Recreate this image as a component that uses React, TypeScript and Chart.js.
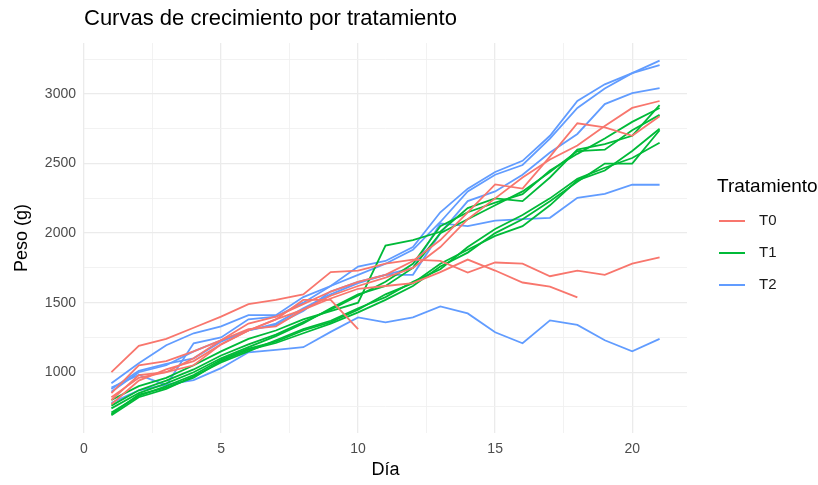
import React, { useEffect, useRef } from "react";
import { Chart, registerables } from "chart.js";

Chart.register(...registerables);

const FONT = "'Liberation Sans', Arial, sans-serif";

const days = [1, 2, 3, 4, 5, 6, 7, 8, 9, 10, 11, 12, 13, 14, 15, 16, 17, 18, 19, 20, 21];

// T0
const t0_s1 = [1000, 1190, 1240, 1320, 1400, 1490, 1520, 1560, 1720, 1730, 1780, 1810, 1800, 1717, 1789, 1781, 1690, 1730, 1700, 1780, 1825];
const t0_s2 = [850, 1050, 1080, 1150, 1230, 1310, 1330, 1450, 1530, 1600, 1620, 1640, 1720, 1810, 1731, 1645, 1616, 1538];
const t0_s3 = [800, 980, 1000, 1100, 1230, 1350, 1400, 1490, 1580, 1650, 1700, 1800, 1950, 2150, 2350, 2320, 2550, 2790, 2760, 2700, 2840];
const t0_s4 = [770, 940, 1020, 1080, 1200, 1300, 1380, 1450, 1550, 1620, 1680, 1750, 1900, 2100, 2250, 2400, 2530, 2630, 2770, 2900, 2950];
const t0_s5 = [820, 960, 1000, 1050, 1200, 1300, 1380, 1520, 1520, 1310];

// T1
const t1_s1 = [800, 900, 960, 1050, 1150, 1240, 1300, 1380, 1440, 1500, 1910, 1950, 2010, 2180, 2250, 2230, 2400, 2600, 2640, 2700, 2920];
const t1_s2 = [760, 870, 940, 1020, 1120, 1200, 1270, 1360, 1450, 1550, 1650, 1780, 2050, 2150, 2220, 2280, 2450, 2570, 2680, 2800, 2900];
const t1_s3 = [740, 850, 920, 1000, 1100, 1180, 1260, 1350, 1460, 1560, 1620, 1750, 2000, 2100, 2200, 2300, 2440, 2590, 2600, 2740, 2850];
const t1_s4 = [710, 830, 900, 980, 1090, 1170, 1220, 1300, 1360, 1450, 1560, 1640, 1780, 1880, 1980, 2050, 2200, 2380, 2450, 2590, 2750];
const t1_s5 = [700, 840, 890, 960, 1080, 1160, 1210, 1280, 1350, 1430, 1520, 1620, 1760, 1860, 2000, 2100, 2230, 2370, 2500, 2500, 2740];
const t1_s6 = [690, 820, 880, 970, 1070, 1150, 1230, 1310, 1370, 1460, 1540, 1650, 1740, 1900, 2030, 2130, 2250, 2390, 2470, 2540, 2650];

// T2
const t2_s1 = [920, 1065, 1194, 1280, 1330, 1410, 1410, 1540, 1620, 1760, 1800, 1900, 2150, 2320, 2440, 2520, 2700, 2950, 3070, 3150, 3240];
const t2_s2 = [890, 980, 907, 1208, 1250, 1380, 1400, 1500, 1620, 1700, 1780, 1880, 2080, 2300, 2420, 2490, 2680, 2900, 3040, 3150, 3208];
const t2_s3 = [860, 1000, 1050, 1150, 1230, 1300, 1350, 1460, 1560, 1640, 1700, 1700, 2000, 2230, 2300, 2420, 2580, 2713, 2928, 3007, 3043];
const t2_s4 = [880, 1010, 1060, 1100, 1220, 1300, 1340, 1440, 1580, 1650, 1700, 1750, 2070, 2050, 2090, 2100, 2110, 2254, 2283, 2348, 2348];
const t2_s5 = [780, 870, 910, 943, 1029, 1143, 1160, 1180, 1290, 1394, 1358, 1394, 1473, 1423, 1287, 1208, 1373, 1340, 1230, 1150, 1240];

const treatments = ["T0", "T1", "T2"];
const treatmentColors = ["#F8766D", "#00BA38", "#619CFF"];
const seriesByTreatment = [
  [t0_s1, t0_s2, t0_s3, t0_s4, t0_s5],
  [t1_s1, t1_s2, t1_s3, t1_s4, t1_s5, t1_s6],
  [t2_s1, t2_s2, t2_s3, t2_s4, t2_s5],
];

const xTicksMajor = [0, 5, 10, 15, 20];
const xTicksMinor = [2.5, 7.5, 12.5, 17.5];
const yTicksMajor = [1000, 1500, 2000, 2500, 3000];
const yTicksMinor = [750, 1250, 1750, 2250, 2750, 3250];

export default function App() {
  const ref = useRef<HTMLCanvasElement | null>(null);

  useEffect(() => {
    document.body.style.margin = "0";
    const datasets: any[] = [];
    seriesByTreatment.forEach((group, gi) => {
      group.forEach((vals, si) => {
        datasets.push({
          label: `${treatments[gi]}-${si + 1}`,
          data: vals.map((v, i) => ({ x: days[i], y: v })),
          borderColor: treatmentColors[gi],
          backgroundColor: treatmentColors[gi],
          borderWidth: 1.8,
          pointRadius: 0,
          tension: 0,
          fill: false,
        });
      });
    });

    const overlay = {
      id: "overlay",
      afterDraw(chart: any) {
        const ctx = chart.ctx as CanvasRenderingContext2D;
        ctx.save();
        ctx.textBaseline = "middle";
        ctx.textAlign = "left";
        ctx.fillStyle = "#000000";
        ctx.font = `22px ${FONT}`;
        ctx.fillText("Curvas de crecimiento por tratamiento", 84, 19);
        ctx.font = `19px ${FONT}`;
        ctx.fillText("Tratamiento", 717, 187);
        treatments.forEach((t, i) => {
          const y = 221 + i * 32;
          ctx.strokeStyle = treatmentColors[i];
          ctx.lineWidth = 2;
          ctx.beginPath();
          ctx.moveTo(719, y);
          ctx.lineTo(745, y);
          ctx.stroke();
          ctx.fillStyle = "#1a1a1a";
          ctx.font = `15px ${FONT}`;
          ctx.fillText(t, 759, y);
        });
        ctx.restore();
      },
    };

    const chart = new Chart(ref.current as HTMLCanvasElement, {
      type: "line",
      data: { datasets },
      options: {
        animation: false,
        responsive: false,
        layout: { padding: { left: 0, right: 131, top: 43, bottom: 0 } },
        plugins: { legend: { display: false }, tooltip: { enabled: false }, title: { display: false } },
        scales: {
          x: {
            type: "linear",
            min: 0,
            max: 22,
            afterBuildTicks: (s: any) => {
              s.ticks = [...xTicksMajor, ...xTicksMinor].sort((a, b) => a - b).map((v) => ({ value: v }));
            },
            afterFit: (s: any) => {
              s.height = 52;
            },
            border: { display: false },
            grid: {
              drawTicks: false,
              color: (c: any) => (xTicksMajor.includes(c.tick?.value) ? "#EBEBEB" : "#F0F0F0"),
              lineWidth: (c: any) => (xTicksMajor.includes(c.tick?.value) ? 1.3 : 0.9),
            },
            ticks: {
              autoSkip: false,
              maxRotation: 0,
              padding: 8,
              color: "#4D4D4D",
              font: { size: 14, family: FONT },
              callback: (v: any) => (xTicksMajor.includes(v) ? String(v) : ""),
            },
            title: {
              display: true,
              text: "Día",
              color: "#000000",
              font: { size: 18, family: FONT },
              padding: { top: 0, bottom: 4 },
            },
          },
          y: {
            type: "linear",
            min: 563,
            max: 3367,
            afterBuildTicks: (s: any) => {
              s.ticks = [...yTicksMajor, ...yTicksMinor].sort((a, b) => a - b).map((v) => ({ value: v }));
            },
            afterFit: (s: any) => {
              s.width = 84;
            },
            border: { display: false },
            grid: {
              drawTicks: false,
              color: (c: any) => (yTicksMajor.includes(c.tick?.value) ? "#EBEBEB" : "#F0F0F0"),
              lineWidth: (c: any) => (yTicksMajor.includes(c.tick?.value) ? 1.3 : 0.9),
            },
            ticks: {
              autoSkip: false,
              padding: 8,
              color: "#4D4D4D",
              font: { size: 14, family: FONT },
              callback: (v: any) => (yTicksMajor.includes(v) ? String(v) : ""),
            },
            title: {
              display: true,
              text: "Peso (g)",
              color: "#000000",
              font: { size: 18, family: FONT },
              padding: { top: 11, bottom: 0 },
            },
          },
        },
      },
      plugins: [overlay],
    } as any);

    return () => chart.destroy();
  }, []);

  return (
    <div style={{ position: "absolute", left: 0, top: 0, width: 818, height: 485, background: "#ffffff" }}>
      <canvas ref={ref} width={818} height={485} style={{ display: "block" }} />
    </div>
  );
}
